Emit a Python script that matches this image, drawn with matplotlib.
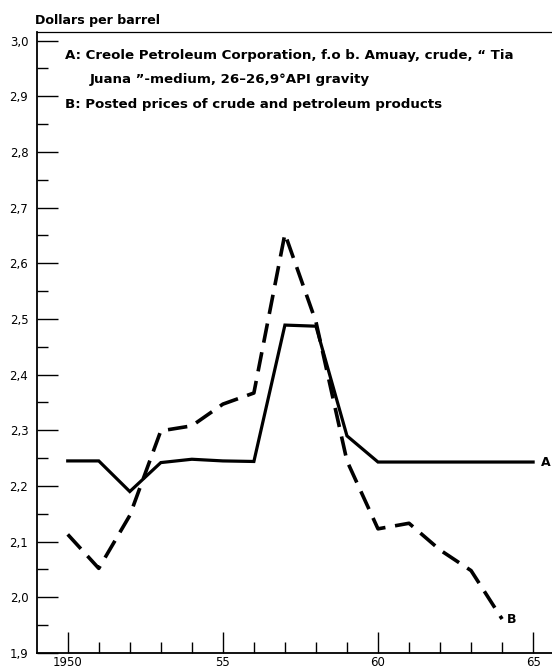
import matplotlib
matplotlib.use("Agg")
import matplotlib.pyplot as plt
from matplotlib.ticker import FixedLocator, FuncFormatter

# Crude oil prices, dollars per barrel
years_a = list(range(1950, 1966))
price_a = [2.245, 2.245, 2.19, 2.242, 2.248, 2.245, 2.244, 2.489, 2.487,
           2.29, 2.243, 2.243, 2.243, 2.243, 2.243, 2.243]
years_b = list(range(1950, 1965))
price_b = [2.113, 2.052, 2.147, 2.299, 2.308, 2.347, 2.367, 2.653, 2.495,
           2.245, 2.123, 2.133, 2.085, 2.048, 1.961]

y_major = [1.9, 2.0, 2.1, 2.2, 2.3, 2.4, 2.5, 2.6, 2.7, 2.8, 2.9, 3.0]
x_major = [1950, 1955, 1960, 1965]
x_labels = ["1950", "55", "60", "65"]

note_a1 = "A: Creole Petroleum Corporation, f.o b. Amuay, crude, \u201c Tia"
note_a2 = "Juana \u201d-medium, 26\u201326,9\u00b0API gravity"
note_b = "B: Posted prices of crude and petroleum products"

fig = plt.figure(figsize=(5.52, 6.72), dpi=100)
ax = fig.add_axes([0.0665, 0.0283, 0.933, 0.9237])

ax.plot(years_a, price_a, color="black", lw=2.3, solid_joinstyle="miter")
ax.plot(years_b, price_b, color="black", lw=2.6, dashes=(5.4, 2.7))

ax.text(years_a[-1] + 0.25, price_a[-1], "A", fontsize=9, va="center",
        ha="left", fontweight="bold")
ax.text(years_b[-1] + 0.15, price_b[-1], "B", fontsize=9, va="center",
        ha="left", fontweight="bold")

ax.set_xlim(1949, 1965.6)
ax.set_ylim(1.9, 3.015)

ax.yaxis.set_major_locator(FixedLocator(y_major))
ax.yaxis.set_minor_locator(FixedLocator([v + 0.05 for v in y_major[:-1]]))
ax.yaxis.set_major_formatter(FuncFormatter(lambda v, p: f"{v:.1f}".replace(".", ",")))
ax.xaxis.set_major_locator(FixedLocator(x_major))
ax.xaxis.set_minor_locator(FixedLocator(list(range(1950, 1966))))
ax.set_xticklabels(x_labels)

ax.tick_params(axis="both", which="major", direction="in", length=15,
               width=1.0, labelsize=8.5, pad=3)
ax.tick_params(axis="both", which="minor", direction="in", length=8,
               width=1.0)
ax.tick_params(axis="y", which="major", pad=6)
ax.tick_params(axis="x", which="major", pad=2)
ax.spines["right"].set_visible(False)
for s in ("left", "bottom"):
    ax.spines[s].set_linewidth(1.3)
ax.spines["top"].set_linewidth(0.9)

fig.text(0.064, 0.969, "Dollars per barrel", fontsize=9.1, fontweight="bold",
         ha="left", va="center")
fig.text(0.118, 0.917, note_a1, fontsize=9.6, fontweight="bold", va="center")
fig.text(0.163, 0.881, note_a2, fontsize=9.6, fontweight="bold", va="center")
fig.text(0.118, 0.845, note_b, fontsize=9.6, fontweight="bold", va="center")

fig.savefig("out.png", dpi=100)
